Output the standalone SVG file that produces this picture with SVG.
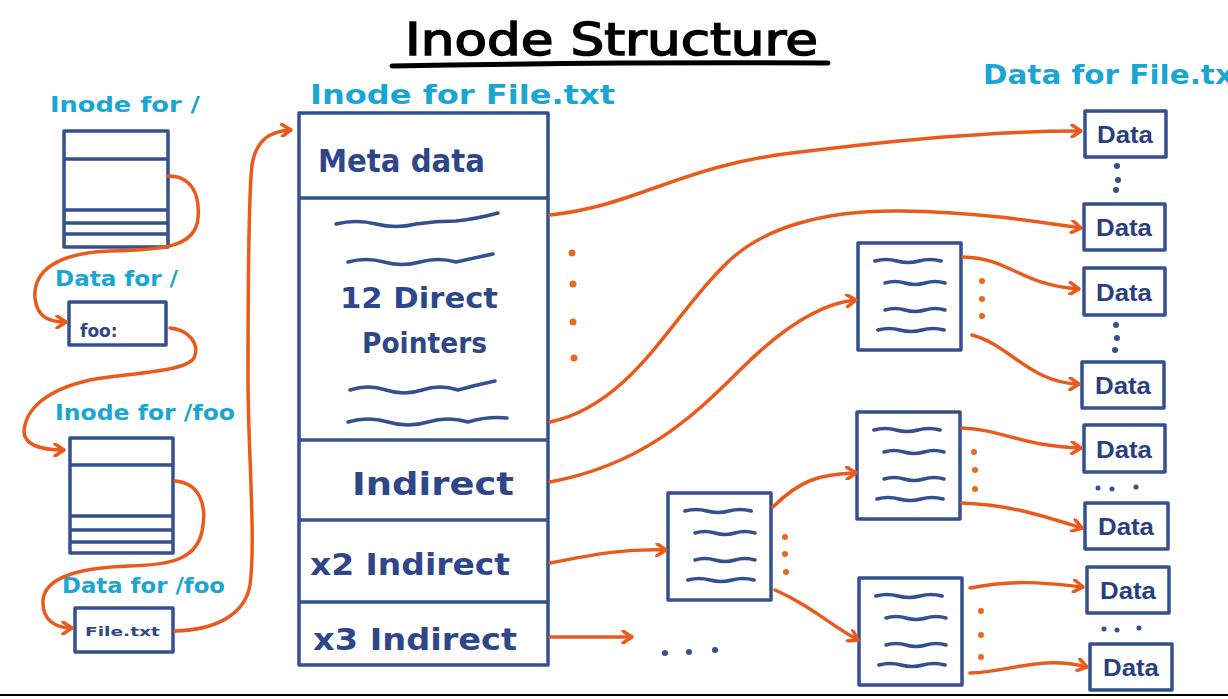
<svg xmlns="http://www.w3.org/2000/svg" width="1228" height="699" viewBox="0 0 1228 699">
<style>
.box{fill:#fff;stroke:#34508f;stroke-width:3.5;stroke-linejoin:round}
.ln{stroke:#34508f;stroke-width:3.5;fill:none}
.wv{stroke:#34508f;stroke-width:3.5;fill:none;stroke-linecap:round}
.cy{fill:#1aa6d2;font-family:"DejaVu Sans",sans-serif;font-weight:bold}
.nv{fill:#2f4789;font-family:"DejaVu Sans",sans-serif;font-weight:bold}
.dt{fill:#2a3f80;font-family:"Liberation Sans",sans-serif;font-weight:bold;font-size:23px;text-anchor:middle}
.ar{stroke:#ea5a1c;stroke-width:3.5;fill:none;stroke-linecap:round;marker-end:url(#ah)}
.od{fill:#ea6a1c}
.bd{fill:#34508f}
</style>
<defs>
<marker id="ah" viewBox="0 0 12 14" refX="11" refY="7" markerWidth="12" markerHeight="14" markerUnits="userSpaceOnUse" orient="auto">
<path d="M2,1 L11,7 L2,13" fill="none" stroke="#ea5a1c" stroke-width="3.5" stroke-linecap="round" stroke-linejoin="round"/>
</marker>
<path id="w" d="M0,0 q10,-3 20,0 t20,0 t20,0"/>
<g id="ib">
<rect class="box" x="0" y="0" width="103" height="107"/>
<use href="#w" class="wv" transform="translate(17,18) scale(1.1,1)"/>
<use href="#w" class="wv" transform="translate(27,40) scale(1.0,1)"/>
<use href="#w" class="wv" transform="translate(27,67) scale(1.0,1)"/>
<use href="#w" class="wv" transform="translate(20,87) scale(1.1,1)"/>
</g>
</defs>
<rect width="1228" height="699" fill="#fff"/>

<g id="title">
<text x="405" y="55" font-family="DejaVu Sans,sans-serif" font-size="44" textLength="413" lengthAdjust="spacingAndGlyphs" fill="#000" stroke="#000" stroke-width="1.5">Inode Structure</text>
<path d="M392,66 Q600,62 828,63" stroke="#000" stroke-width="5" fill="none" stroke-linecap="round"/>
</g>

<g id="inode-root">
<text class="cy" x="50" y="112" font-size="21" textLength="150" lengthAdjust="spacingAndGlyphs">Inode for /</text>
<rect class="box" x="64" y="131" width="104" height="116"/>
<path class="ln" d="M64,159 H168 M64,210 H168 M64,223 H168 M64,234 H168"/>
</g>
<g id="data-root">
<text class="cy" x="55" y="286" font-size="21" textLength="123" lengthAdjust="spacingAndGlyphs">Data for /</text>
<rect class="box" x="69" y="302" width="97" height="43"/>
<text class="nv" x="80" y="337" font-size="17">foo:</text>
</g>
<g id="inode-foo">
<text class="cy" x="55" y="420" font-size="21" textLength="180" lengthAdjust="spacingAndGlyphs">Inode for /foo</text>
<rect class="box" x="70" y="438" width="103" height="115"/>
<path class="ln" d="M70,465 H173 M70,516 H173 M70,530 H173 M70,542 H173"/>
</g>
<g id="data-foo">
<text class="cy" x="62" y="593" font-size="21" textLength="163" lengthAdjust="spacingAndGlyphs">Data for /foo</text>
<rect class="box" x="75" y="608" width="98" height="44"/>
<text class="nv" x="85" y="636" font-size="13" textLength="75" lengthAdjust="spacingAndGlyphs">File.txt</text>
</g>

<g id="inode-file">
<text class="cy" x="310" y="104" font-size="26" textLength="305" lengthAdjust="spacingAndGlyphs">Inode for File.txt</text>
<rect class="box" x="299" y="113" width="249" height="552"/>
<path class="ln" d="M299,198 H548 M299,440 H548 M299,520 H548 M299,602 H548"/>
<text class="nv" x="318" y="172" font-size="32" textLength="167" lengthAdjust="spacingAndGlyphs">Meta data</text>
<path class="wv" d="M336,224 q20,-5 40,0 t40,0 q20,-3 40,-3 q20,-2 42,-8"/>
<path class="wv" d="M348,262 q18,-5 36,0 t36,0 t36,0 q18,-4 37,-8"/>
<text class="nv" x="340" y="308" font-size="29" textLength="158" lengthAdjust="spacingAndGlyphs">12 Direct</text>
<text class="nv" x="362" y="353" font-size="29" textLength="125" lengthAdjust="spacingAndGlyphs">Pointers</text>
<path class="wv" d="M350,390 q18,-6 36,0 t36,0 t36,0 q18,-5 37,-9"/>
<path class="wv" d="M348,422 q20,-6 40,0 t40,0 t40,0 q20,-6 39,-4"/>
<text class="nv" x="352" y="495" font-size="32" textLength="162" lengthAdjust="spacingAndGlyphs">Indirect</text>
<text class="nv" x="310" y="575" font-size="30" textLength="200" lengthAdjust="spacingAndGlyphs">x2 Indirect</text>
<text class="nv" x="313" y="650" font-size="30" textLength="204" lengthAdjust="spacingAndGlyphs">x3 Indirect</text>
</g>

<g id="ind1"><use href="#ib" x="858" y="243"/></g>
<g id="dbl"><use href="#ib" x="668" y="493"/></g>
<g id="dblA"><use href="#ib" x="857" y="412"/></g>
<g id="dblB"><use href="#ib" x="859" y="578"/></g>

<g id="data-file">
<text class="cy" x="983" y="84" font-size="26" textLength="265" lengthAdjust="spacingAndGlyphs">Data for File.txt</text>
</g>
<g id="d1"><rect class="box" x="1085" y="111" width="81" height="46"/><text class="dt" x="1125" y="143" textLength="56" lengthAdjust="spacingAndGlyphs">Data</text></g>
<g id="d2"><rect class="box" x="1084" y="204" width="81" height="46"/><text class="dt" x="1124" y="236" textLength="56" lengthAdjust="spacingAndGlyphs">Data</text></g>
<g id="d3"><rect class="box" x="1084" y="268" width="81" height="47"/><text class="dt" x="1124" y="301" textLength="56" lengthAdjust="spacingAndGlyphs">Data</text></g>
<g id="d4"><rect class="box" x="1082" y="362" width="82" height="46"/><text class="dt" x="1123" y="394" textLength="56" lengthAdjust="spacingAndGlyphs">Data</text></g>
<g id="d5"><rect class="box" x="1084" y="425" width="81" height="47"/><text class="dt" x="1124" y="458" textLength="56" lengthAdjust="spacingAndGlyphs">Data</text></g>
<g id="d6"><rect class="box" x="1085" y="503" width="83" height="46"/><text class="dt" x="1126" y="535" textLength="56" lengthAdjust="spacingAndGlyphs">Data</text></g>
<g id="d7"><rect class="box" x="1087" y="567" width="82" height="46"/><text class="dt" x="1128" y="599" textLength="56" lengthAdjust="spacingAndGlyphs">Data</text></g>
<g id="d8"><rect class="box" x="1090" y="644" width="82" height="46"/><text class="dt" x="1131" y="676" textLength="56" lengthAdjust="spacingAndGlyphs">Data</text></g>

<g id="dots">
<circle class="od" cx="572" cy="253" r="3.5"/><circle class="od" cx="573" cy="284" r="3.5"/><circle class="od" cx="573" cy="322" r="3.5"/><circle class="od" cx="574" cy="358" r="3.5"/>
<circle class="od" cx="982" cy="281" r="3"/><circle class="od" cx="982" cy="299" r="3"/><circle class="od" cx="982" cy="316" r="3"/>
<circle class="od" cx="785" cy="537" r="3"/><circle class="od" cx="785" cy="554" r="3"/><circle class="od" cx="786" cy="572" r="3"/>
<circle class="od" cx="974" cy="452" r="3"/><circle class="od" cx="975" cy="470" r="3"/><circle class="od" cx="975" cy="489" r="3"/>
<circle class="od" cx="981" cy="611" r="3"/><circle class="od" cx="981" cy="635" r="3"/><circle class="od" cx="981" cy="657" r="3"/>
<circle class="bd" cx="1117" cy="166" r="3"/><circle class="bd" cx="1118" cy="180" r="3"/><circle class="bd" cx="1116" cy="190" r="3"/>
<circle class="bd" cx="1116" cy="325" r="3"/><circle class="bd" cx="1117" cy="338" r="3"/><circle class="bd" cx="1115" cy="350" r="3"/>
<circle class="bd" cx="1098" cy="488" r="2.5"/><circle class="bd" cx="1112" cy="489" r="2.5"/><circle class="bd" cx="1136" cy="487" r="2.5"/>
<circle class="bd" cx="1104" cy="629" r="2.5"/><circle class="bd" cx="1117" cy="630" r="2.5"/><circle class="bd" cx="1139" cy="628" r="2.5"/>
<circle class="bd" cx="665" cy="653" r="3"/><circle class="bd" cx="689" cy="652" r="3"/><circle class="bd" cx="715" cy="650" r="3"/>
</g>

<g id="connectors">
<path class="ar" d="M168,176 C192,176 200,195 198,218 C196,248 160,250 110,251 C55,253 33,272 35,298 C37,318 50,322 66,322"/>
<path class="ar" d="M170,328 C190,330 200,345 194,358 C185,372 130,373 90,380 C45,390 25,410 24,432 C25,445 40,450 64,450"/>
<path class="ar" d="M175,481 C200,483 206,505 203,525 C200,560 170,565 130,566 C70,568 45,580 43,600 C42,620 55,628 72,628"/>
<path class="ar" d="M175,631 C215,630 245,615 250,585 C256,540 248,450 248,380 C248,300 248,200 252,165 C256,140 270,131 291,130"/>
<path class="ar" d="M550,215 C640,205 680,165 800,152 C900,140 990,131 1081,131"/>
<path class="ar" d="M550,422 C630,405 670,320 720,270 C760,225 830,210 900,211 C980,212 1040,222 1081,228"/>
<path class="ar" d="M550,482 C640,465 690,420 740,370 C780,330 820,303 856,300"/>
<path class="ar" d="M550,563 C600,553 625,549 666,550"/>
<path class="ar" d="M550,637 L632,637"/>
<path class="ar" d="M963,257 C1010,258 1020,285 1079,289"/>
<path class="ar" d="M972,335 C1010,345 1030,383 1079,384"/>
<path class="ar" d="M773,507 C800,480 820,474 856,473"/>
<path class="ar" d="M775,590 C810,605 830,625 858,640"/>
<path class="ar" d="M962,428 C1005,430 1020,446 1081,448"/>
<path class="ar" d="M962,503 C1010,505 1040,515 1082,528"/>
<path class="ar" d="M970,588 C1010,580 1040,582 1083,587"/>
<path class="ar" d="M970,673 C1010,672 1040,655 1087,667"/>
</g>
<line x1="0" y1="695" x2="1228" y2="695" stroke="#000" stroke-width="2"/>
</svg>
